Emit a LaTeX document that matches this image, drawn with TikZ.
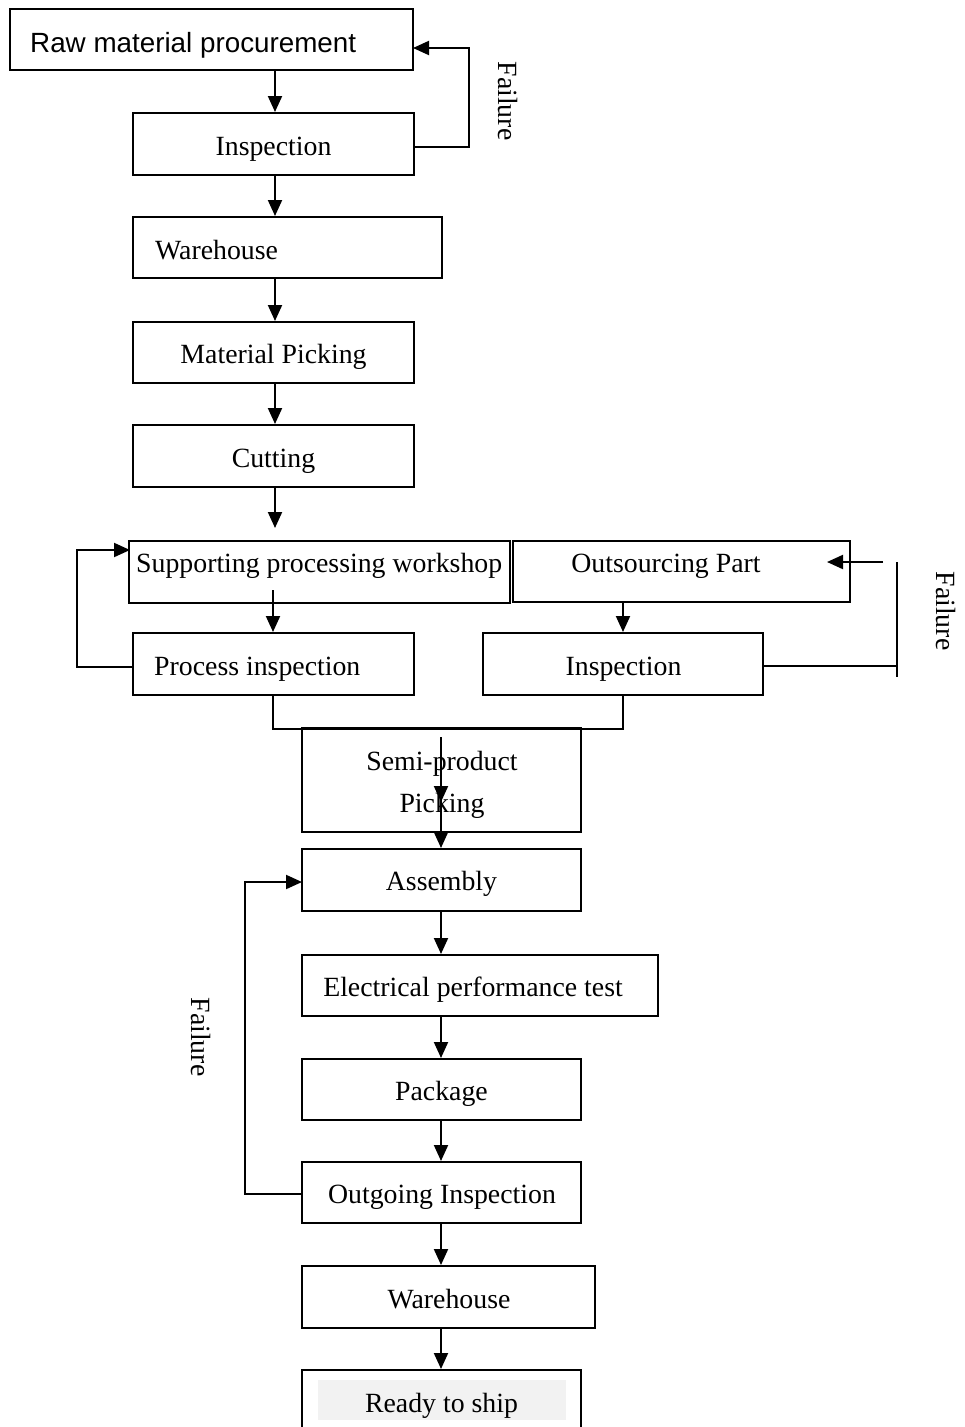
\documentclass[tikz,border=0pt]{standalone}
\usepackage{fontspec}
\setmainfont{Liberation Serif}
\newfontfamily\arialfont{Liberation Sans}
\usetikzlibrary{arrows.meta}
\definecolor{shipgray}{HTML}{F2F2F2}
\tikzset{
  box/.style={draw, line width=2pt, rectangle, inner sep=0pt},
  txt/.style={inner sep=0pt, anchor=base, font=\fontsize{27.8}{33}\selectfont},
  ltxt/.style={txt, anchor=base west},
  arr/.style={line width=2pt, -{Triangle[length=16pt,width=14pt]}},
  ln/.style={line width=2pt},
  faillabel/.style={inner sep=0pt, rotate=-90, font=\fontsize{27.8}{33}\selectfont}
}
\begin{document}
\begin{tikzpicture}[x=1pt,y=-1pt]
\useasboundingbox (0,0) rectangle (964,1427);
\clip (0,0) rectangle (964,1427);
% boxes
\node[box, minimum width=403pt, minimum height=61pt] (raw) at (211.5,39.5) {};
\node[box, minimum width=281pt, minimum height=62pt] (insp1) at (273.5,144) {};
\node[box, minimum width=309pt, minimum height=61pt] (wh1) at (287.5,247.5) {};
\node[box, minimum width=281pt, minimum height=61pt] (pick) at (273.5,352.5) {};
\node[box, minimum width=281pt, minimum height=62pt] (cut) at (273.5,456) {};
\node[box, minimum width=381pt, minimum height=62pt] (supp) at (319.5,572) {};
\node[box, minimum width=337pt, minimum height=61pt] (outs) at (681.5,571.5) {};
\node[box, minimum width=281pt, minimum height=62pt] (proc) at (273.5,664) {};
\node[box, minimum width=280pt, minimum height=62pt] (insp2) at (623,664) {};
\node[box, minimum width=279pt, minimum height=104pt] (semi) at (441.5,780) {};
\node[box, minimum width=279pt, minimum height=62pt] (asm) at (441.5,880) {};
\node[box, minimum width=356pt, minimum height=61pt] (elec) at (480,985.5) {};
\node[box, minimum width=279pt, minimum height=61pt] (pack) at (441.5,1089.5) {};
\node[box, minimum width=279pt, minimum height=61pt] (outg) at (441.5,1192.5) {};
\node[box, minimum width=293pt, minimum height=62pt] (wh2) at (448.5,1297) {};
\node[box, minimum width=279pt, minimum height=62pt] (ready) at (441.5,1401) {};
\fill[shipgray] (318,1380) rectangle (566,1420);
% texts
\node[ltxt, font=\arialfont\fontsize{27.8}{33}\selectfont] (traw) at (30,52) {Raw material procurement};
\node[txt] (tinsp1) at (273.5,155) {Inspection};
\node[ltxt] (twh1) at (155,259) {Warehouse};
\node[txt] (tpick) at (273.5,363) {Material Picking};
\node[txt] (tcut) at (273.5,467) {Cutting};
\node[ltxt] (tsupp) at (136,572) {Supporting processing workshop};
\node[txt] (touts) at (666,572) {Outsourcing Part};
\node[ltxt] (tproc) at (154,675) {Process inspection};
\node[txt] (tinsp2) at (623.5,675) {Inspection};
\node[txt] (tsemi1) at (442,770) {Semi-product};
\node[txt] (tsemi2) at (442,812) {Picking};
\node[txt] (tasm) at (441.5,890) {Assembly};
\node[txt] (telec) at (473,996) {Electrical performance test};
\node[txt] (tpack) at (441.5,1100) {Package};
\node[txt] (toutg) at (442,1203) {Outgoing Inspection};
\node[txt] (twh2) at (449,1308) {Warehouse};
\node[txt] (tready) at (441.5,1412) {Ready to ship};
\node[faillabel] (f1) at (508,101) {Failure};
\node[faillabel] (f2) at (946,611) {Failure};
\node[faillabel] (f3) at (201,1037) {Failure};
% helper coordinates
\coordinate (col1) at (275,0);
\coordinate (col2) at (441,0);
\coordinate (col3) at (273,0);
\coordinate (rawin) at (413,48);
\coordinate (insp1out) at (414,147);
\coordinate (cutend) at (275,528);
\coordinate (suppin) at (130,550);
\coordinate (suppmid) at (273,590);
\coordinate (procout) at (133,667);
\coordinate (insp2out) at (763,666);
\coordinate (rbar) at (897,666);
\coordinate (rbartop) at (897,562);
\coordinate (rbarbot) at (897,677);
\coordinate (rarrstart) at (883,562);
\coordinate (rarrend) at (827,562);
\coordinate (semitop) at (441,737);
\coordinate (semimid) at (441,802);
\coordinate (outgout) at (302,1194);
\coordinate (asmin) at (302,882);
\coordinate (col4) at (623,0);
% connectors top column
\draw[arr] (raw.south -| col1) -- (insp1.north -| col1);
\draw[arr] (insp1.south -| col1) -- (wh1.north -| col1);
\draw[arr] (wh1.south -| col1) -- (pick.north -| col1);
\draw[arr] (pick.south -| col1) -- (cut.north -| col1);
\draw[arr] (cut.south -| col1) -- (cutend);
\draw[arr] (insp1out) -- ++(55,0) |- (rawin);
% middle
\draw[arr] (suppmid) -- (proc.north -| col3);
\draw[arr] (procout) -- ++(-56,0) |- (suppin);
\draw[arr] (outs.south -| col4) -- (insp2.north -| col4);
\draw[ln] (insp2out) -- (rbar);
\draw[ln] (rbartop) -- (rbarbot);
\draw[arr] (rarrstart) -- (rarrend);
\draw[ln] (proc.south -| col3) -- ++(0,33) -| (insp2.south -| col4);
% lower column
\draw[arr] (semitop) -- (semimid);
\draw[arr] (semitop) -- (asm.north -| col2);
\draw[arr] (asm.south -| col2) -- (elec.north -| col2);
\draw[arr] (elec.south -| col2) -- (pack.north -| col2);
\draw[arr] (pack.south -| col2) -- (outg.north -| col2);
\draw[arr] (outg.south -| col2) -- (wh2.north -| col2);
\draw[arr] (wh2.south -| col2) -- (ready.north -| col2);
\draw[arr] (outgout) -- ++(-57,0) |- (asmin);
\end{tikzpicture}
\end{document}
